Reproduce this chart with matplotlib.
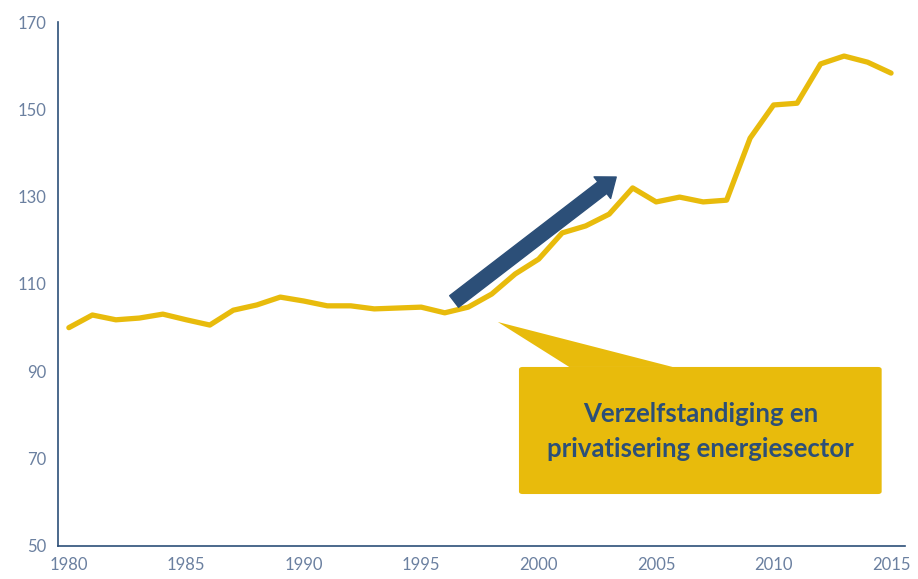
import matplotlib.pyplot as plt
from matplotlib.patches import FancyBboxPatch, Polygon

years = list(range(1980, 2016))
index = [100.0, 102.9, 101.8, 102.2, 103.1, 101.8, 100.6, 104.0, 105.2, 107.0,
         106.1, 105.0, 105.0, 104.3, 104.5, 104.7, 103.4, 104.7, 107.7, 112.3,
         115.7, 121.7, 123.3, 126.0, 132.0, 128.8, 129.9, 128.8, 129.2, 143.4,
         151.0, 151.4, 160.4, 162.2, 160.8, 158.3]
yticks = [50, 70, 90, 110, 130, 150, 170]
xticks = [1980, 1985, 1990, 1995, 2000, 2005, 2010, 2015]
note = "Verzelfstandiging en\nprivatisering energiesector"

yellow = "#e8bb0c"
navy = "#2c4f78"
grey = "#6b80a0"

plt.rcParams["font.family"] = ["Lato", "DejaVu Sans"]

fig = plt.figure(figsize=(9.18, 5.79), dpi=100)
ax = fig.add_axes([0.063, 0.057, 0.923, 0.905])

ax.plot(years, index, color=yellow, lw=3.8, solid_capstyle="round", solid_joinstyle="round")

ax.set_xlim(1979.53, 2015.6)
ax.set_ylim(50, 170)
ax.set_xticks(xticks)
ax.set_yticks(yticks)
ax.tick_params(length=0, colors=grey, labelsize=12, pad=8)
for s in ["top", "right"]:
    ax.spines[s].set_visible(False)
for s in ["left", "bottom"]:
    ax.spines[s].set_color(navy)
    ax.spines[s].set_linewidth(1.2)

# arrow
ax.annotate("", xy=(2003.3, 134.5), xytext=(1996.4, 106.0),
            arrowprops=dict(arrowstyle="simple,head_length=0.9,head_width=1.4,tail_width=0.75",
                            color=navy, mutation_scale=14, shrinkA=0, shrinkB=0))

# callout
tail = Polygon([(1998.26, 101.3), (2001.3, 91.0), (2005.7, 91.0)], closed=True,
               facecolor=yellow, edgecolor="none", zorder=3)
ax.add_patch(tail)
box = FancyBboxPatch((1999.16, 61.9), 15.44, 29.1, boxstyle="round,pad=0,rounding_size=0.15",
                     facecolor=yellow, edgecolor="none", zorder=3, mutation_aspect=4)
ax.add_patch(box)
ax.text(2006.9, 76.2, note, ha="center", va="center", color=navy, fontsize=18.5,
        fontweight="bold", linespacing=1.55, zorder=4)

plt.savefig("out.png", dpi=100)
